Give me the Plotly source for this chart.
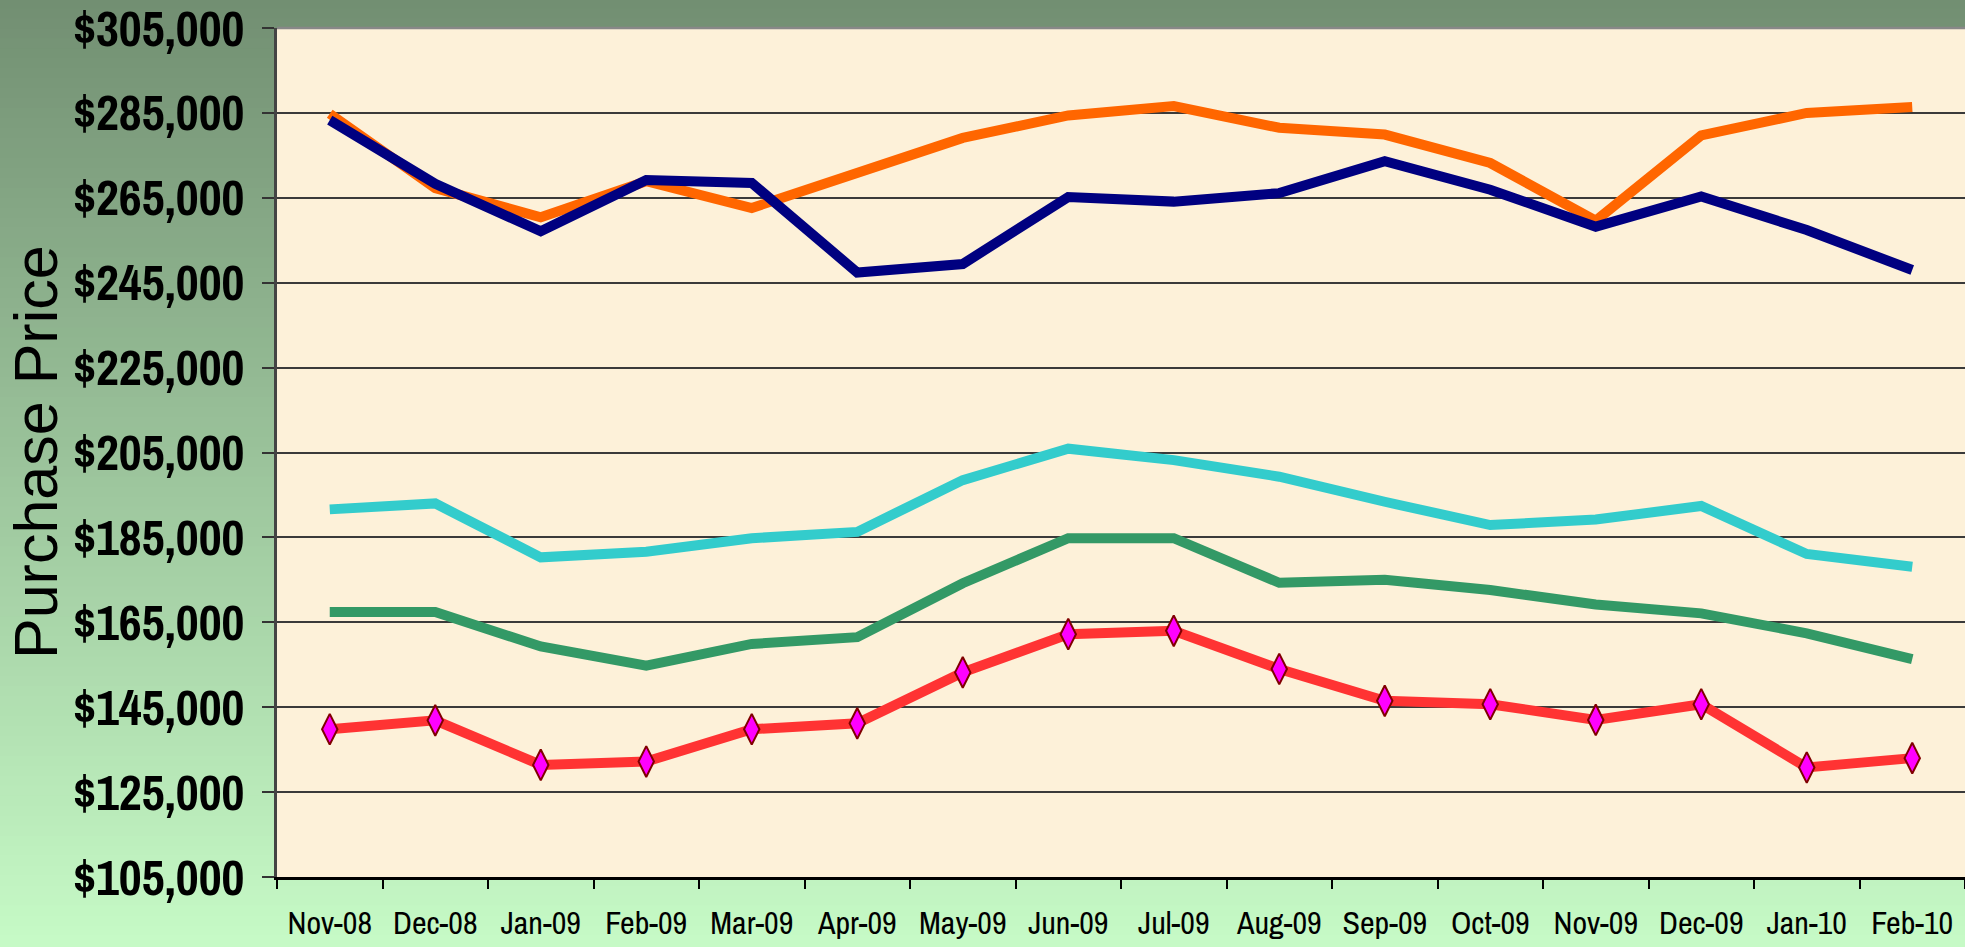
import plotly.graph_objects as go

months = ["Nov-08", "Dec-08", "Jan-09", "Feb-09", "Mar-09", "Apr-09", "May-09", "Jun-09",
          "Jul-09", "Aug-09", "Sep-09", "Oct-09", "Nov-09", "Dec-09", "Jan-10", "Feb-10"]

orange_vals = [284800, 267300, 260400, 268900, 262600, 270800, 279100, 284400,
               286600, 281500, 279900, 273200, 259600, 279700, 285000, 286400]
navy_vals = [283300, 268300, 257100, 269200, 268500, 247400, 249400, 265200,
             264100, 266100, 273600, 266900, 258200, 265300, 257400, 248000]
cyan_vals = [191600, 193000, 180300, 181600, 184800, 186300, 198500, 205900,
             203200, 199300, 193400, 187900, 189200, 192400, 181100, 178100]
green_vals = [167400, 167400, 159300, 154800, 159900, 161500, 174200, 184800,
              184800, 174300, 175000, 172600, 169200, 167100, 162400, 156300]
red_vals = [139800, 141900, 131400, 132200, 139800, 141200, 153200, 162200,
            163000, 154000, 146500, 145700, 142000, 145700, 130800, 133000]

y_ticks = list(range(105000, 305001, 20000))
y_labels = ["$" + format(v, ",") for v in y_ticks]

W, H = 1965, 947
L, R, T, B = 277, 0, 28, 70
plot_w = W - L - R
plot_h = H - T - B

fig = go.Figure()

series = [
    ("Green", green_vals, "#339966"),
    ("Cyan", cyan_vals, "#33CCCC"),
    ("Orange", orange_vals, "#FF6600"),
    ("Navy", navy_vals, "#000080"),
]
for name, vals, col in series:
    fig.add_trace(go.Scatter(x=months, y=vals, name=name, mode="lines",
                             line=dict(color=col, width=10), hoverinfo="skip"))

fig.add_trace(go.Scatter(x=months, y=red_vals, name="Red", mode="lines+markers",
                         line=dict(color="#FF3333", width=10),
                         marker=dict(symbol="diamond-tall", size=22, color="#FF00FF",
                                     line=dict(color="#800000", width=2)),
                         hoverinfo="skip"))

# vertical green gradient behind the chart
shapes = []
n = 95
top = (114, 143, 114)
bot = (198, 250, 198)
y_lo = -B / plot_h
y_hi = 1 + T / plot_h
x_lo = -L / plot_w - 0.01
x_hi = 1.01
for i in range(n):
    f = i / (n - 1)
    c = tuple(round(top[k] + (bot[k] - top[k]) * f) for k in range(3))
    ya = y_hi - (y_hi - y_lo) * (i + 1) / n
    yb = y_hi - (y_hi - y_lo) * i / n
    shapes.append(dict(type="rect", xref="paper", yref="paper", x0=x_lo, x1=x_hi,
                       y0=ya - 0.002, y1=yb + 0.002,
                       line=dict(width=0), fillcolor="rgb(%d,%d,%d)" % c, layer="below"))
shapes.append(dict(type="rect", xref="x domain", yref="y domain", x0=0, x1=1, y0=0, y1=1,
                   line=dict(width=0), fillcolor="#FDF1D9", layer="below"))
shapes.append(dict(type="line", xref="x domain", yref="y domain", x0=0, x1=1, y0=1, y1=1,
                   line=dict(color="#888888", width=2.5), layer="above"))

narrow = "Archivo Narrow, Liberation Sans Narrow, Arial Narrow, Liberation Sans"

fig.update_layout(
    width=W, height=H, margin=dict(l=L, r=R, t=T, b=B, autoexpand=False),
    paper_bgcolor="rgb(198,250,198)", plot_bgcolor="#FDF1D9",
    showlegend=False, shapes=shapes,
    xaxis=dict(type="category", categoryorder="array", categoryarray=months,
               range=[-0.5, 15.5], tickson="boundaries", ticks="outside", ticklen=9,
               tickcolor="#000000", tickwidth=1.5, showgrid=False, showline=True,
               linecolor="#000000", linewidth=2.5, tickangle=0, automargin=False,
               tickfont=dict(family=narrow, size=32, color="#000000", weight="normal"),
               ticklabelstandoff=16, ticklabeloverflow="allow", fixedrange=True),
    yaxis=dict(range=[105000, 305000], tickvals=y_ticks, ticktext=y_labels,
               ticks="outside", ticklen=12, tickcolor="#333333", tickwidth=1.5,
               showgrid=True, gridcolor="#3a3a3a", gridwidth=1.5, automargin=False,
               showline=True, linecolor="#444444", linewidth=2.5,
               tickfont=dict(family=narrow, size=50, color="#000000", weight="bold"),
               ticklabelstandoff=8, ticklabeloverflow="allow", zeroline=False,
               fixedrange=True),
    annotations=[
        dict(text="Purchase Price", xref="paper", yref="paper",
             x=(36 - L) / plot_w, y=((H - 452) - B) / plot_h,
             xanchor="center", yanchor="middle", textangle=-90, showarrow=False,
             font=dict(family="Liberation Sans, Arial", size=61, color="#000000")),
    ],
)

fig.write_html("out.html", config={"displayModeBar": False},
               post_script="document.body.style.margin='0';document.body.style.overflow='hidden';")
